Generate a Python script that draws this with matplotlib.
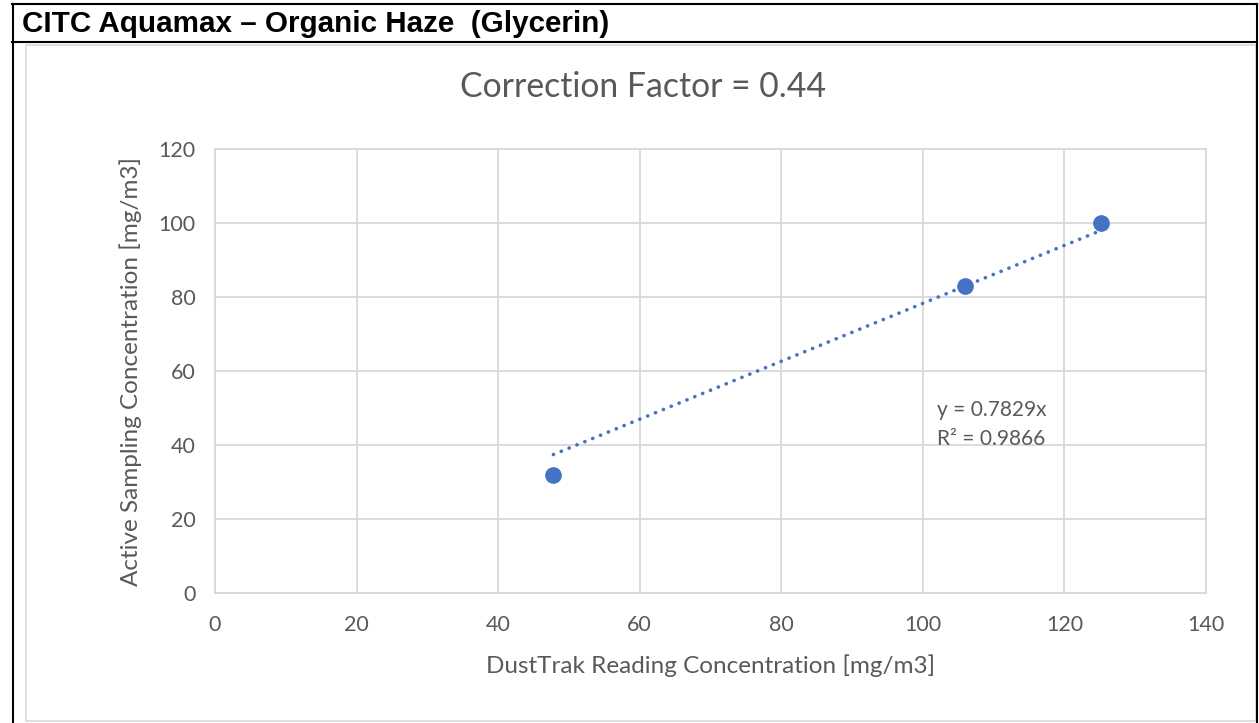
import matplotlib.pyplot as plt
from matplotlib.lines import Line2D
from matplotlib.patches import Rectangle

# 数据
dusttrak = [47.8, 106.0, 125.2]
active = [32.0, 83.0, 100.0]
slope = 0.7829
r2 = 0.9866
x_ticks = [0, 20, 40, 60, 80, 100, 120, 140]
y_ticks = [0, 20, 40, 60, 80, 100, 120]

W, H = 1259, 723
fig = plt.figure(figsize=(W / 100, H / 100), dpi=100)
fig.patch.set_facecolor('white')

def fx(px):
    return px / W

def fy(py):
    return 1 - py / H

# 表格边框
black = dict(color='black', linewidth=1.5, transform=fig.transFigure)
fig.add_artist(Line2D([fx(12), fx(1257)], [fy(4), fy(4)], **black))
fig.add_artist(Line2D([fx(12), fx(1257)], [fy(42), fy(42)], **black))
fig.add_artist(Line2D([fx(12.5), fx(12.5)], [fy(4), fy(723)], **black))
fig.add_artist(Line2D([fx(1257), fx(1257)], [fy(4), fy(723)], **black))
fig.add_artist(Rectangle((fx(25.5), fy(721)), fx(1256 - 25.5), (721 - 45) / H,
                         transform=fig.transFigure, fill=False,
                         edgecolor='#d9d9d9', linewidth=1.2))
fig.text(fx(22), fy(24), 'CITC Aquamax \u2013 Organic Haze  (Glycerin)',
         family='Liberation Sans', weight='bold', fontsize=21.3,
         va='center', ha='left', color='black')

grey = '#595959'
ax = fig.add_axes([fx(215), fy(593), fx(1206 - 215), (593 - 149) / H])
ax.set_xlim(0, 140)
ax.set_ylim(0, 120)
ax.set_xticks(x_ticks)
ax.set_yticks(y_ticks)
ax.grid(True, color='#d9d9d9', linewidth=1.3)
ax.set_axisbelow(True)
for s in ax.spines.values():
    s.set_color('#d9d9d9')
    s.set_linewidth(1.3)
ax.tick_params(axis='x', length=0, pad=16, labelsize=15.5, labelcolor=grey)
ax.tick_params(axis='y', length=0, pad=14, labelsize=15.5, labelcolor=grey)
for lab in ax.get_xticklabels() + ax.get_yticklabels():
    lab.set_family('Lato')

# 趋势线 (过原点)
tx = [min(dusttrak), max(dusttrak)]
ty = [slope * v for v in tx]
ax.plot(tx, ty, color='#4472c4', linewidth=2.6, linestyle=(0, (0.05, 2.3)),
        dash_capstyle='round', zorder=3)
ax.plot(dusttrak, active, 'o', color='#4472c4', markersize=11, zorder=4)

ax.text(102.0, 49.5, 'y = 0.7829x', fontsize=15, color=grey, family='Lato',
        va='center', ha='left')
ax.text(102.0, 41.7, f'R\u00b2 = {r2}', fontsize=15, color=grey, family='Lato',
        va='center', ha='left')

ax.set_xlabel('DustTrak Reading Concentration [mg/m3]', fontsize=17.5,
              color=grey, family='Lato', labelpad=14)
ax.set_ylabel('Active Sampling Concentration [mg/m3]', fontsize=17.5,
              color=grey, family='Lato', labelpad=12)
fig.text(fx(643), fy(87), 'Correction Factor = 0.44', fontsize=24.3,
         color=grey, family='Lato', ha='center', va='center')

fig.savefig('out.png', dpi=100)
